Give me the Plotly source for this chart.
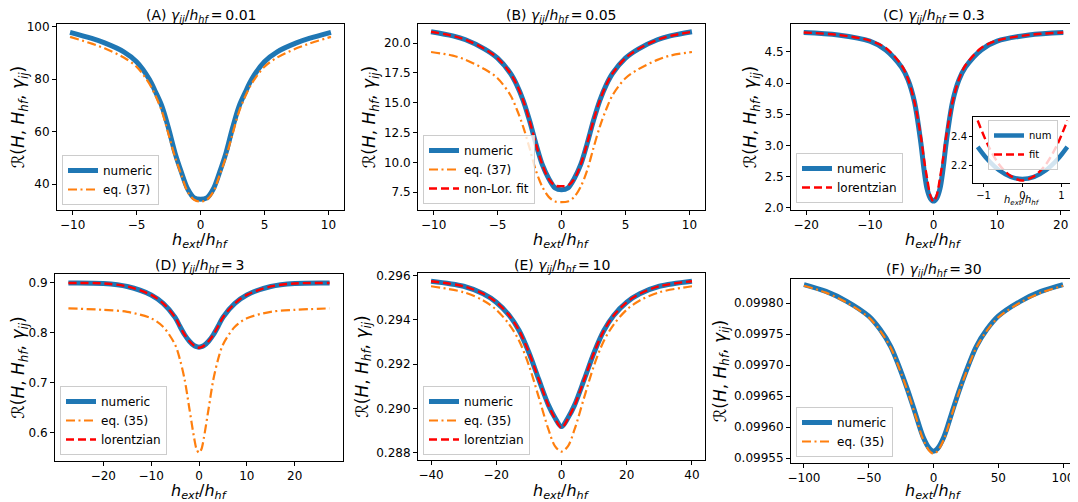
import plotly.graph_objects as go

# page body has an 8px margin; the figure is sized so it ends at the window edge
OFF = 8
W, H = 1078 - OFF, 502 - OFF

# ---------------- data ----------------
xA = [-10.2, -8.5, -7.5, -6, -5, -4, -3.5, -3, -2.5, -2, -1.5, -1, -0.5, 0,
      0.5, 1, 1.5, 2, 2.5, 3, 3.5, 4, 5, 6, 7.5, 8.5, 10.2]
numA = [97.9, 95.6, 93.9, 90.5, 86.7, 80.0, 75.0, 69.5, 61.3, 52.0, 44.6, 38.1, 34.7, 34.2,
        34.7, 38.1, 44.6, 52.0, 61.3, 69.5, 75.0, 80.0, 86.7, 90.5, 93.9, 95.6, 97.9]
eqA = [96.2, 93.6, 91.8, 88.3, 84.8, 78.3, 73.5, 67.5, 59.0, 50.5, 43.5, 37.0, 34.0, 33.3,
       34.0, 37.0, 43.5, 50.5, 59.0, 67.5, 73.5, 78.3, 84.8, 88.3, 91.8, 93.6, 96.2]

xB = xA
numB = [20.95, 20.6, 20.28, 19.5, 18.74, 17.47, 16.5, 15.2, 13.5, 11.55, 9.8, 8.65, 7.85, 7.70,
        7.85, 8.65, 9.8, 11.55, 13.5, 15.2, 16.5, 17.47, 18.74, 19.5, 20.28, 20.6, 20.95]
eqB = [19.25, 18.95, 18.59, 17.8, 17.05, 15.64, 14.45, 13.0, 11.2, 9.3, 7.95, 7.1, 6.72, 6.66,
       6.72, 7.1, 7.95, 9.3, 11.2, 13.0, 14.45, 15.64, 17.05, 17.8, 18.59, 18.95, 19.25]
fitB = [20.95, 20.6, 20.28, 19.5, 18.74, 17.47, 16.5, 15.2, 13.5, 11.55, 9.8, 8.6, 8.05, 8.0,
        8.05, 8.6, 9.8, 11.55, 13.5, 15.2, 16.5, 17.47, 18.74, 19.5, 20.28, 20.6, 20.95]

xC = [-20.4, -15, -10, -7.5, -5, -4, -3, -2, -1.5, -1, -0.5, 0,
      0.5, 1, 1.5, 2, 3, 4, 5, 7.5, 10, 15, 20.4]
numC = [4.81, 4.77, 4.67, 4.53, 4.25, 4.05, 3.70, 3.05, 2.62, 2.30, 2.155, 2.11,
        2.155, 2.30, 2.62, 3.05, 3.70, 4.05, 4.25, 4.53, 4.67, 4.77, 4.81]
lorC = [4.81, 4.77, 4.68, 4.56, 4.28, 4.06, 3.70, 3.15, 2.78, 2.47, 2.20, 2.10,
        2.20, 2.47, 2.78, 3.15, 3.70, 4.06, 4.28, 4.56, 4.68, 4.77, 4.81]

xIn = [-1.15, -0.9, -0.6, -0.3, 0, 0.3, 0.6, 0.9, 1.15]
numIn = [2.33, 2.245, 2.17, 2.125, 2.11, 2.125, 2.17, 2.245, 2.33]
fitIn = [2.51, 2.35, 2.21, 2.13, 2.10, 2.13, 2.21, 2.35, 2.51]

xD = [-27.3, -20, -15, -10, -7.5, -5, -4, -3, -2, -1, -0.5, 0,
      0.5, 1, 2, 3, 4, 5, 7.5, 10, 15, 20, 27.3]
numD = [0.900, 0.899, 0.893, 0.876, 0.859, 0.831, 0.813, 0.796, 0.783, 0.774, 0.772, 0.771,
        0.772, 0.774, 0.783, 0.796, 0.813, 0.831, 0.859, 0.876, 0.893, 0.899, 0.900]
eqD = [0.849, 0.846, 0.842, 0.829, 0.812, 0.776, 0.747, 0.706, 0.647, 0.588, 0.566, 0.559,
       0.566, 0.588, 0.647, 0.706, 0.747, 0.776, 0.812, 0.829, 0.842, 0.846, 0.849]
lorD = [0.900, 0.899, 0.893, 0.876, 0.859, 0.831, 0.813, 0.796, 0.783, 0.774, 0.771, 0.770,
        0.771, 0.774, 0.783, 0.796, 0.813, 0.831, 0.859, 0.876, 0.893, 0.899, 0.900]

xE = [-40, -30, -24, -20, -16, -13, -10, -7, -4, -2, 0,
      2, 4, 7, 10, 13, 16, 20, 24, 30, 40]
numE = [0.29575, 0.29552, 0.29518, 0.29480, 0.29420, 0.29352, 0.29253, 0.29132, 0.29015, 0.28958, 0.28918,
        0.28958, 0.29015, 0.29132, 0.29253, 0.29352, 0.29420, 0.29480, 0.29518, 0.29552, 0.29575]
eqE = [0.29552, 0.29525, 0.29488, 0.29446, 0.29379, 0.29306, 0.29195, 0.29052, 0.28905, 0.28830, 0.28805,
       0.28830, 0.28905, 0.29052, 0.29195, 0.29306, 0.29379, 0.29446, 0.29488, 0.29525, 0.29552]
lorE = [0.29575, 0.29552, 0.29518, 0.29480, 0.29420, 0.29352, 0.29253, 0.29132, 0.29013, 0.28955, 0.28912,
        0.28955, 0.29013, 0.29132, 0.29253, 0.29352, 0.29420, 0.29480, 0.29518, 0.29552, 0.29575]

xF = [-100, -83, -67, -50, -41, -33, -27, -20, -14, -8, -3, 0,
      3, 8, 14, 20, 27, 33, 41, 50, 67, 83, 100]
numF = [0.099830, 0.099819, 0.099803, 0.099779, 0.099757, 0.099730, 0.099700, 0.099660, 0.099622, 0.099584, 0.099565, 0.099561,
        0.099565, 0.099584, 0.099622, 0.099660, 0.099700, 0.099730, 0.099757, 0.099779, 0.099803, 0.099819, 0.099830]
eqF = [0.099828, 0.099817, 0.099801, 0.099777, 0.099755, 0.099728, 0.099698, 0.099658, 0.099619, 0.099580, 0.099561, 0.099557,
       0.099561, 0.099580, 0.099619, 0.099658, 0.099698, 0.099728, 0.099755, 0.099777, 0.099801, 0.099817, 0.099828]

titles = ["(A) ", "(B) ", "(C) ", "(D) ", "(E) ", "(F) "]
gammas = ["0.01", "0.05", "0.3", "3", "10", "30"]

# ---------------- styling ----------------
FONT = "DejaVu Sans"
BLUE, ORANGE, RED = "#1f77b4", "#ff7f0e", "red"
DASHDOT = "9px,3.5px,2px,3.5px"
DASHED = "8px,4px"


def px_x(p):
    return (p - OFF) / W


def px_y(p):
    return 1 - (p - OFF) / H


fig = go.Figure()

# panel boxes in window pixels: (left, right, top, bottom)
boxes = {
    1: (57, 344, 24, 210),
    2: (418, 705, 24, 210),
    3: (791, 1076, 24, 210),
    4: (55, 343, 274, 461),
    5: (418, 705, 273, 460),
    6: (791, 1076, 279, 463),
    7: (973, 1072, 117, 183),
}
xranges = {1: [-11.22, 11.22], 2: [-11.22, 11.22], 3: [-22.4, 22.4], 4: [-30.1, 30.1],
           5: [-44, 44], 6: [-110, 110], 7: [-1.27, 1.27]}
yranges = {1: [30.1, 101.1], 2: [6.0, 21.6], 3: [1.967, 4.945], 4: [0.5425, 0.918],
           5: [0.28767, 0.29612], 6: [0.099542, 0.099839], 7: [2.083, 2.534]}
xticks = {1: [-10, -5, 0, 5, 10], 2: [-10, -5, 0, 5, 10], 3: [-20, -10, 0, 10, 20],
          4: [-20, -10, 0, 10, 20], 5: [-40, -20, 0, 20, 40], 6: [-100, -50, 0, 50, 100], 7: [-1, 0, 1]}
yticks = {1: [40, 60, 80, 100], 2: [7.5, 10, 12.5, 15, 17.5, 20], 3: [2.0, 2.5, 3.0, 3.5, 4.0, 4.5],
          4: [0.6, 0.7, 0.8, 0.9], 5: [0.288, 0.290, 0.292, 0.294, 0.296],
          6: [0.09955, 0.09960, 0.09965, 0.09970, 0.09975, 0.09980], 7: [2.2, 2.4]}
yfmt = {1: "d", 2: ".1f", 3: ".1f", 4: ".1f", 5: ".3f", 6: ".5f", 7: ".1f"}


def add(i, x, y, name, kind, legend, spline=0.9):
    suf = "" if i == 1 else str(i)
    if kind == "num":
        line = dict(color=BLUE, width=5 if i != 7 else 4.5)
    elif kind == "eq":
        line = dict(color=ORANGE, width=2.2, dash=DASHDOT)
    else:
        line = dict(color=RED, width=2.4, dash=DASHED)
    line["shape"] = "spline"
    line["smoothing"] = spline
    fig.add_trace(go.Scatter(x=x, y=y, name=name, mode="lines", line=line,
                             xaxis="x" + suf, yaxis="y" + suf, legend=legend))


add(1, xA, numA, "numeric", "num", "legend")
add(1, xA, eqA, "eq. (37)", "eq", "legend")
add(2, xB, numB, "numeric", "num", "legend2")
add(2, xB, eqB, "eq. (37)", "eq", "legend2")
add(2, xB, fitB, "non-Lor. fit", "red", "legend2")
add(3, xC, numC, "numeric", "num", "legend3")
add(3, xC, lorC, "lorentzian", "red", "legend3")
add(4, xD, numD, "numeric", "num", "legend4")
add(4, xD, eqD, "eq. (35)", "eq", "legend4")
add(4, xD, lorD, "lorentzian", "red", "legend4")
add(5, xE, numE, "numeric", "num", "legend5")
add(5, xE, eqE, "eq. (35)", "eq", "legend5")
add(5, xE, lorE, "lorentzian", "red", "legend5")
add(6, xF, numF, "numeric", "num", "legend6")
add(6, xF, eqF, "eq. (35)", "eq", "legend6")
add(7, xIn, numIn, "num", "num", "legend7")
add(7, xIn, fitIn, "fit", "red", "legend7")

layout = dict(
    width=W, height=H, margin=dict(l=0, r=0, t=0, b=0),
    paper_bgcolor="white", plot_bgcolor="white",
    font=dict(family=FONT, size=12, color="black"),
    annotations=[],
)

ylabel = "ℛ(<i>H</i>, <i>H<sub>hf</sub></i>, <i>γ<sub>ij</sub></i>)"
xlabel = "<i>h<sub>ext</sub></i>/<i>h<sub>hf</sub></i>"

for i, (l, r, t, b) in boxes.items():
    suf = "" if i == 1 else str(i)
    small = i == 7
    common = dict(showline=True, mirror=True, linecolor="black", linewidth=1,
                  ticks="outside", ticklen=3 if small else 4, tickcolor="black",
                  showgrid=False, zeroline=False, fixedrange=True, automargin=False,
                  tickfont=dict(family=FONT, size=10 if small else 12, color="black"))
    layout["xaxis" + suf] = dict(domain=[px_x(l), px_x(r)], range=xranges[i],
                                 anchor="y" + suf, tickvals=xticks[i], tickformat="d", **common)
    yax = dict(domain=[px_y(b), px_y(t)], range=yranges[i],
               anchor="x" + suf, tickvals=yticks[i], tickformat=yfmt[i], **common)
    if not small:
        yax["title"] = dict(text=ylabel, font=dict(family=FONT, size=17, color="black"), standoff=3)
    layout["yaxis" + suf] = yax

title_y = {1: 16, 2: 16, 3: 16, 4: 266, 5: 266, 6: 270}
xlab_y = {1: 240, 2: 240, 3: 240, 4: 491, 5: 491, 6: 491}

for i in range(1, 7):
    l, r, t, b = boxes[i]
    cx = (l + r) / 2
    layout["annotations"].append(dict(
        x=px_x(cx), y=px_y(title_y[i]), xref="paper", yref="paper",
        text=titles[i - 1] + "<i>γ<sub>ij</sub></i>/<i>h<sub>hf</sub></i>\u2009=\u2009" + gammas[i - 1],
        showarrow=False, font=dict(size=14), xanchor="center", yanchor="middle"))
    layout["annotations"].append(dict(
        x=px_x(cx), y=px_y(xlab_y[i]), xref="paper", yref="paper", text=xlabel,
        showarrow=False, font=dict(size=16), xanchor="center", yanchor="middle"))

# inset x label
layout["annotations"].append(dict(
    x=px_x(1022), y=px_y(201), xref="paper", yref="paper", text=xlabel,
    showarrow=False, font=dict(size=10), xanchor="center", yanchor="middle"))

leg_common = dict(bgcolor="rgba(255,255,255,0.8)", bordercolor="#cccccc", borderwidth=1,
                  font=dict(family=FONT, size=12, color="black"), itemwidth=30,
                  tracegroupgap=0, xanchor="left", yanchor="bottom")
legpos = {"legend": (62, 205), "legend2": (423, 204), "legend3": (796, 203),
          "legend4": (60, 455), "legend5": (423, 455), "legend6": (796, 457)}
for k, (lx, ly) in legpos.items():
    layout[k] = dict(x=px_x(lx), y=px_y(ly), **leg_common)
layout["legend7"] = dict(x=px_x(988), y=px_y(120), bgcolor="rgba(255,255,255,0.8)",
                         bordercolor="#cccccc", borderwidth=1, itemwidth=30,
                         font=dict(family=FONT, size=10, color="black"),
                         xanchor="left", yanchor="top")

fig.update_layout(**layout)
fig.write_html("out.html")
